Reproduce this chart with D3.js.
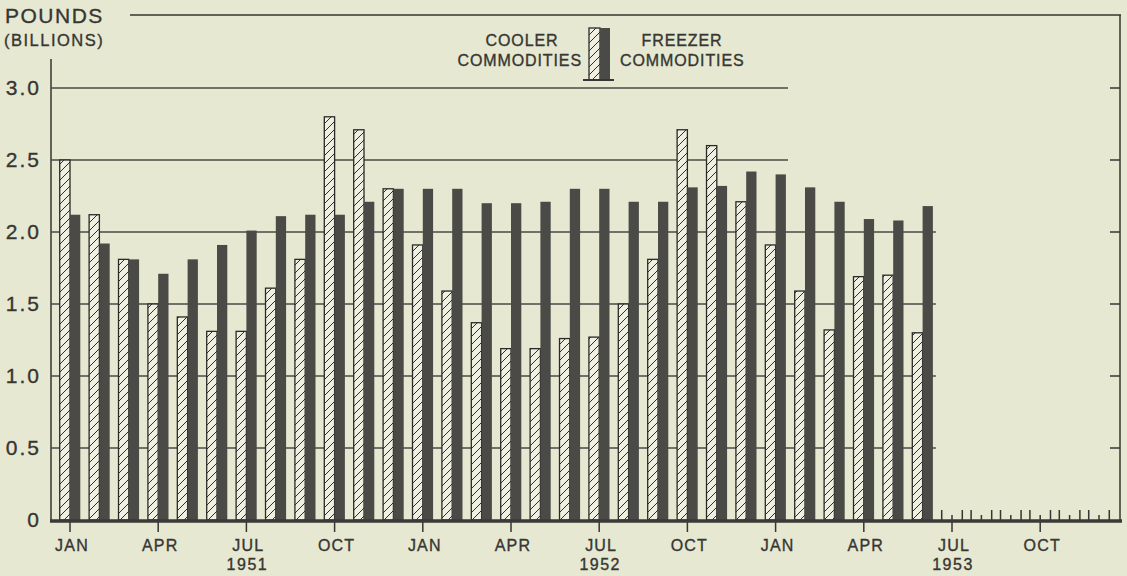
<!DOCTYPE html>
<html>
<head>
<meta charset="utf-8">
<script src="https://cdn.jsdelivr.net/npm/d3@7"></script>
<style>
  body { margin: 0; background: #e6e8d1; }
  svg { display: block; font-family: "Liberation Sans", Arial, sans-serif; }
  svg text { stroke: #363633; stroke-width: 0.35px; }
</style>
</head>
<body>
<div id="chart"></div>
<script>
const years = [1951, 1952, 1953];
const monthNames = ["JAN", "FEB", "MAR", "APR", "MAY", "JUN", "JUL", "AUG", "SEP", "OCT", "NOV", "DEC"];
const labelledMonths = ["JAN", "APR", "JUL", "OCT"];
const yTicks = [0, 0.5, 1.0, 1.5, 2.0, 2.5, 3.0];

// storage holdings, billions of pounds, Jan 1951 - Jun 1953
const cooler = [2.50, 2.12, 1.81, 1.50, 1.41, 1.31, 1.31, 1.61, 1.81, 2.80, 2.71, 2.30,
                1.91, 1.59, 1.37, 1.19, 1.19, 1.26, 1.27, 1.50, 1.81, 2.71, 2.60, 2.21,
                1.91, 1.59, 1.32, 1.69, 1.70, 1.30];
const freezer = [2.12, 1.92, 1.81, 1.71, 1.81, 1.91, 2.01, 2.11, 2.12, 2.12, 2.21, 2.30,
                 2.30, 2.30, 2.20, 2.20, 2.21, 2.30, 2.30, 2.21, 2.21, 2.31, 2.32, 2.42,
                 2.40, 2.31, 2.21, 2.09, 2.08, 2.18];

const periods = years.flatMap(y => monthNames.map(m => `${m} ${y}`));
const rows = cooler.map((c, i) => ({ period: periods[i], cooler: c, freezer: freezer[i] }));

const fullWidth = 1127;
const fullHeight = 576;
const ink = "#363633";
const darkBar = "#4a4b47";

const svg = d3.select("#chart")
              .append("svg")
              .attr("width", fullWidth)
              .attr("height", fullHeight);

// hatching for the cooler bars
const pat = svg.append("defs")
               .append("pattern")
               .attr("id", "hatch")
               .attr("patternUnits", "userSpaceOnUse")
               .attr("width", 8)
               .attr("height", 8);
pat.append("rect").attr("width", 8).attr("height", 8).attr("fill", "#efefe2");
pat.append("path")
   .attr("d", "M0,8 L8,0 M-1,1 L1,-1 M7,9 L9,7")
   .attr("stroke", "#2e2e2c")
   .attr("stroke-width", 1);

// scales
const xScale = d3.scaleBand()
                 .domain(periods)
                 .range([55.3, 1113.7])
                 .paddingInner(0.3)
                 .paddingOuter(0.15);

const subScale = d3.scaleBand()
                   .domain(["cooler", "freezer"])
                   .range([0, xScale.bandwidth()]);

const yScale = d3.scaleLinear()
                 .domain([0, 3])
                 .range([520, 88]);

const center = p => xScale(p) + xScale.bandwidth() / 2;
const axisLeftX = 51;
const rightX = 1120;

// frame: top rule, right border, left axis
svg.append("line")
   .attr("x1", 130).attr("x2", rightX + 1)
   .attr("y1", 15).attr("y2", 15)
   .attr("stroke", ink).attr("stroke-width", 1.5);
svg.append("line")
   .attr("x1", rightX).attr("x2", rightX)
   .attr("y1", 15).attr("y2", 521)
   .attr("stroke", ink).attr("stroke-width", 1.5);
svg.append("line")
   .attr("x1", axisLeftX).attr("x2", axisLeftX)
   .attr("y1", 59).attr("y2", 521)
   .attr("stroke", ink).attr("stroke-width", 1.5);

// gridlines (top two stop short, the rest run to the last bar)
const lastBarX = xScale(periods[rows.length - 1]) + xScale.bandwidth() + 3;
svg.append("g")
   .selectAll("line")
   .data(yTicks.filter(t => t > 0))
   .enter()
   .append("line")
   .attr("x1", axisLeftX)
   .attr("x2", d => d >= 2.5 ? 788 : lastBarX)
   .attr("y1", d => yScale(d))
   .attr("y2", d => yScale(d))
   .attr("stroke", "#4a4a46")
   .attr("stroke-width", 1.3);

// right border ticks
svg.append("g")
   .selectAll("line")
   .data(yTicks.filter(t => t > 0))
   .enter()
   .append("line")
   .attr("x1", rightX - 10).attr("x2", rightX)
   .attr("y1", d => yScale(d)).attr("y2", d => yScale(d))
   .attr("stroke", ink).attr("stroke-width", 1.5);

// y axis labels
const yAxis = d3.axisLeft(yScale)
                .tickValues(yTicks)
                .tickSize(0)
                .tickPadding(10)
                .tickFormat(d => d === 0 ? "0" : d.toFixed(1));

const yG = svg.append("g")
              .attr("transform", `translate(${axisLeftX},0)`)
              .call(yAxis);
yG.select(".domain").remove();
yG.selectAll("text")
  .attr("font-family", "Liberation Sans, Arial, sans-serif")
  .attr("font-size", 21)
  .attr("letter-spacing", 2)
  .attr("fill", ink);

// bars
const barHolder = svg.append("g").classed("bar-holder", true);

barHolder.selectAll("rect.cooler")
         .data(rows)
         .enter()
         .append("rect")
         .classed("cooler", true)
         .attr("x", d => xScale(d.period) + subScale("cooler"))
         .attr("width", subScale.bandwidth())
         .attr("y", d => yScale(d.cooler))
         .attr("height", d => yScale(0) - yScale(d.cooler))
         .attr("fill", "url(#hatch)")
         .attr("stroke", "#2a2a28")
         .attr("stroke-width", 1.3);

barHolder.selectAll("rect.freezer")
         .data(rows)
         .enter()
         .append("rect")
         .classed("freezer", true)
         .attr("x", d => xScale(d.period) + subScale("freezer"))
         .attr("width", subScale.bandwidth())
         .attr("y", d => yScale(d.freezer))
         .attr("height", d => yScale(0) - yScale(d.freezer))
         .attr("fill", darkBar);

// x axis: month labels with ticks below the base
const labelled = periods.filter(p => labelledMonths.includes(p.split(" ")[0]));
const xAxis = d3.axisBottom(xScale)
                .tickValues(labelled)
                .tickSize(12)
                .tickPadding(8)
                .tickFormat(p => p.split(" ")[0]);

const xG = svg.append("g")
              .attr("transform", `translate(0,${yScale(0)})`)
              .call(xAxis);
xG.select(".domain").remove();
xG.selectAll(".tick line").attr("stroke", ink).attr("stroke-width", 1.5);
xG.selectAll("text")
  .attr("font-family", "Liberation Sans, Arial, sans-serif")
  .attr("font-size", 16)
  .attr("letter-spacing", 1.2)
  .attr("dx", 2)
  .attr("fill", ink);

// year labels under JUL
svg.append("g")
   .selectAll("text")
   .data(years)
   .enter()
   .append("text")
   .attr("x", d => center(`JUL ${d}`) + 1)
   .attr("y", 570)
   .attr("text-anchor", "middle")
   .attr("font-size", 16)
   .attr("letter-spacing", 1.5)
   .attr("fill", ink)
   .text(d => d);

// small ticks along the empty months
const emptyMonths = periods.slice(rows.length);
const smallTicks = emptyMonths.flatMap(p => [
  { x: center(p) - subScale.bandwidth(), h: 10 },
  { x: center(p), h: 5 },
  { x: center(p) + subScale.bandwidth(), h: 10 }
]);
svg.append("g")
   .selectAll("line")
   .data(smallTicks)
   .enter()
   .append("line")
   .attr("x1", d => d.x).attr("x2", d => d.x)
   .attr("y1", yScale(0)).attr("y2", d => yScale(0) - d.h)
   .attr("stroke", ink).attr("stroke-width", 1.5);

// thick base line
svg.append("line")
   .attr("x1", axisLeftX - 1).attr("x2", rightX + 2)
   .attr("y1", yScale(0) + 1).attr("y2", yScale(0) + 1)
   .attr("stroke", "#3a3a37")
   .attr("stroke-width", 3.5);

// axis title
svg.append("text")
   .attr("x", 5).attr("y", 23)
   .attr("font-size", 21)
   .attr("letter-spacing", 1.5)
   .attr("fill", ink)
   .text("POUNDS");
svg.append("text")
   .attr("x", 4).attr("y", 46)
   .attr("font-size", 16.5)
   .attr("letter-spacing", 1.5)
   .attr("fill", ink)
   .text("(BILLIONS)");

// legend
const legend = svg.append("g");
legend.append("rect")
      .attr("x", 589).attr("y", 28)
      .attr("width", 11).attr("height", 52)
      .attr("fill", "url(#hatch)")
      .attr("stroke", "#2a2a28").attr("stroke-width", 1.3);
legend.append("rect")
      .attr("x", 600).attr("y", 28)
      .attr("width", 10).attr("height", 52)
      .attr("fill", darkBar);
legend.append("line")
      .attr("x1", 583).attr("x2", 614)
      .attr("y1", 80).attr("y2", 80)
      .attr("stroke", ink).attr("stroke-width", 2);

const legendText = [
  { t: "COOLER", x: 522, y: 46, a: "middle" },
  { t: "COMMODITIES", x: 582, y: 66, a: "end" },
  { t: "FREEZER", x: 682, y: 46, a: "middle" },
  { t: "COMMODITIES", x: 620, y: 66, a: "start" }
];
legend.selectAll("text")
      .data(legendText)
      .enter()
      .append("text")
      .attr("x", d => d.x).attr("y", d => d.y)
      .attr("text-anchor", d => d.a)
      .attr("font-size", 16)
      .attr("letter-spacing", 0.9)
      .attr("fill", ink)
      .text(d => d.t);
</script>
</body>
</html>
